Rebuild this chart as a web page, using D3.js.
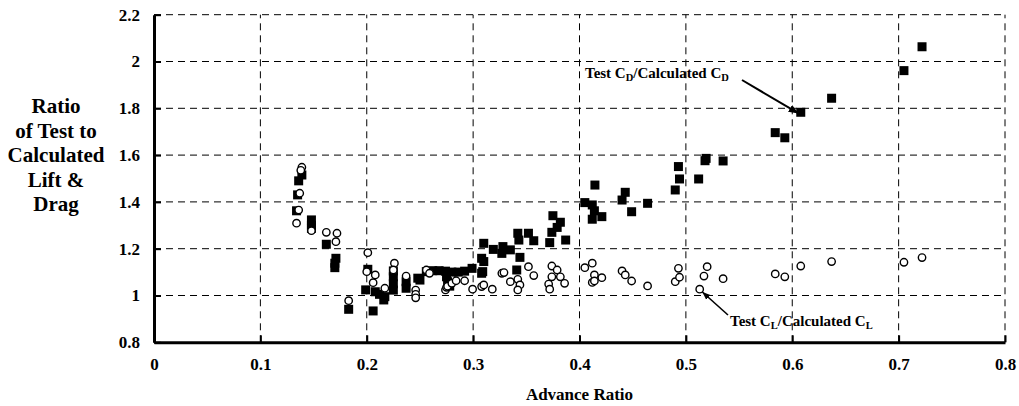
<!DOCTYPE html>
<html><head><meta charset="utf-8">
<script src="https://cdn.jsdelivr.net/npm/d3@7"></script>
<style>
body{margin:0;background:#fff;}
text{font-family:"Liberation Serif","Times New Roman",serif;font-weight:bold;fill:#000;}
</style></head>
<body><svg id="c" width="1019" height="406"></svg>
<script>
// Test CD / Calculated CD (filled squares)
const dragX = [0.134,0.135,0.136,0.139,0.148,0.148,0.148,0.162,0.171,0.170,0.170,0.183,0.199,0.201,0.208,0.206,0.212,0.216,0.217,0.225,0.225,0.225,0.225,0.237,0.237,0.248,0.250,0.256,0.262,0.268,0.274,0.275,0.276,0.278,0.280,0.286,0.292,0.299,0.308,0.310,0.309,0.308,0.310,0.319,0.327,0.328,0.335,0.342,0.343,0.344,0.341,0.352,0.357,0.372,0.374,0.375,0.379,0.382,0.387,0.405,0.412,0.414,0.412,0.421,0.4145,0.440,0.443,0.449,0.464,0.490,0.494,0.493,0.512,0.518,0.519,0.535,0.584,0.593,0.608,0.637,0.705,0.722];
const dragY = [1.362,1.430,1.490,1.515,1.323,1.300,1.287,1.219,1.159,1.138,1.119,0.941,1.024,1.112,1.016,0.934,1.005,0.981,0.995,1.105,1.080,1.050,1.023,1.059,1.031,1.074,1.066,1.102,1.106,1.106,1.104,1.080,1.059,1.040,1.100,1.100,1.104,1.116,1.159,1.145,1.102,1.095,1.223,1.197,1.180,1.209,1.195,1.266,1.237,1.163,1.109,1.266,1.234,1.226,1.270,1.341,1.291,1.313,1.237,1.397,1.387,1.362,1.326,1.337,1.472,1.408,1.441,1.358,1.394,1.451,1.498,1.551,1.498,1.576,1.586,1.575,1.696,1.674,1.783,1.843,1.961,2.063];
// Test CL / Calculated CL (open circles)
const liftX = [0.134,0.136,0.137,0.139,0.138,0.148,0.162,0.172,0.171,0.183,0.201,0.200,0.208,0.206,0.217,0.226,0.225,0.237,0.246,0.246,0.246,0.256,0.259,0.274,0.275,0.276,0.280,0.284,0.292,0.2995,0.308,0.310,0.318,0.327,0.329,0.335,0.342,0.344,0.342,0.352,0.357,0.371,0.372,0.374,0.379,0.374,0.382,0.386,0.405,0.412,0.414,0.412,0.414,0.421,0.440,0.443,0.449,0.464,0.490,0.493,0.494,0.513,0.517,0.520,0.535,0.584,0.593,0.608,0.637,0.705,0.722];
const liftY = [1.309,1.365,1.437,1.548,1.535,1.277,1.270,1.266,1.230,0.978,1.183,1.102,1.088,1.055,1.031,1.138,1.109,1.083,1.023,1.005,0.990,1.109,1.095,1.024,1.035,1.040,1.052,1.063,1.063,1.027,1.038,1.045,1.027,1.095,1.098,1.059,1.069,1.045,1.024,1.123,1.085,1.049,1.027,1.126,1.109,1.080,1.080,1.052,1.119,1.138,1.088,1.056,1.062,1.076,1.105,1.088,1.062,1.041,1.059,1.116,1.078,1.027,1.083,1.123,1.072,1.092,1.080,1.126,1.145,1.142,1.162];
const xTicks = [0,0.1,0.2,0.3,0.4,0.5,0.6,0.7,0.8];
const yTicks = [0.8,1,1.2,1.4,1.6,1.8,2,2.2];
const xTickLabels = ["0","0.1","0.2","0.3","0.4","0.5","0.6","0.7","0.8"];
const yTickLabels = ["0.8","1","1.2","1.4","1.6","1.8","2","2.2"];
const yTitleLines = ["Ratio","of Test to","Calculated","Lift &","Drag"];
const xTitle = "Advance Ratio";

const svg = d3.select("#c");
const x = d3.scaleLinear().domain([0,0.8]).range([154,1005]);
const y = d3.scaleLinear().domain([0.8,2.2]).range([342.3,14.7]);

// grid
const g = svg.append("g").attr("stroke","#000").attr("stroke-width",1).attr("stroke-dasharray","7,5");
g.selectAll("line.h").data(yTicks.slice(1)).join("line")
  .attr("x1",x(0)).attr("x2",x(0.8)).attr("y1",d=>y(d)).attr("y2",d=>y(d));
g.selectAll("line.v").data(xTicks.slice(1)).join("line").attr("class","v")
  .attr("y1",y(0.8)).attr("y2",y(2.2)).attr("x1",d=>x(d)).attr("x2",d=>x(d));

// axes
const ax = svg.append("g").attr("transform",`translate(0,${y(0.8)})`)
  .call(d3.axisBottom(x).tickValues(xTicks).tickFormat((d,i)=>xTickLabels[i]).tickSizeInner(-7).tickSizeOuter(0).tickPadding(16));
const ay = svg.append("g").attr("transform",`translate(${x(0)},0)`)
  .call(d3.axisLeft(y).tickValues(yTicks).tickFormat((d,i)=>yTickLabels[i]).tickSizeInner(-7).tickSizeOuter(0).tickPadding(14));
[ax,ay].forEach(a=>{
  a.select(".domain").attr("stroke","#000").attr("stroke-width",3);
  a.selectAll(".tick line").attr("stroke","#000").attr("stroke-width",2);
  a.selectAll(".tick text").style("font-family",'"Liberation Serif",serif').style("font-weight","bold").style("font-size","17px").attr("fill","#000");
});

// squares
const s = 9;
svg.append("g").selectAll("rect").data(dragX).join("rect")
  .attr("x",(d,i)=>x(d)-s/2).attr("y",(d,i)=>y(dragY[i])-s/2).attr("width",s).attr("height",s).attr("fill","#000");
// circles
svg.append("g").selectAll("circle").data(liftX).join("circle")
  .attr("cx",d=>x(d)).attr("cy",(d,i)=>y(liftY[i])).attr("r",3.7)
  .attr("fill","#fff").attr("stroke","#000").attr("stroke-width",1.4);

// titles
svg.append("text").attr("x",(x(0)+x(0.8))/2).attr("y",400).attr("text-anchor","middle").style("font-size","17px").text(xTitle);
const yt = svg.append("text").attr("text-anchor","middle").style("font-size","21px");
yTitleLines.forEach((t,i)=>yt.append("tspan").attr("x",56).attr("y",113+i*24.5).text(t));

// annotations
const defs = svg.append("defs");
defs.append("marker").attr("id","ah").attr("viewBox","0 0 10 10").attr("refX",10).attr("refY",5)
  .attr("markerWidth",5).attr("markerHeight",5).attr("orient","auto")
  .append("path").attr("d","M0,1 L10,5 L0,9 Z").attr("fill","#000");
function ann(tx,ty,sub){
  const t = svg.append("text").attr("x",tx).attr("y",ty).style("font-size","15px");
  t.append("tspan").text("Test C");
  t.append("tspan").attr("dy",3).style("font-size","10.5px").text(sub);
  t.append("tspan").attr("dy",-3).text("/Calculated C");
  t.append("tspan").attr("dy",3).style("font-size","10.5px").text(sub);
}
ann(585,78,"D");
ann(730,326,"L");
svg.append("line").attr("x1",742).attr("y1",80).attr("x2",x(0.606)).attr("y2",y(1.778))
  .attr("stroke","#000").attr("stroke-width",2).attr("marker-end","url(#ah)");
svg.append("line").attr("x1",728).attr("y1",315).attr("x2",x(0.5155)).attr("y2",y(1.015))
  .attr("stroke","#000").attr("stroke-width",1.6).attr("marker-end","url(#ah)");
</script></body></html>
